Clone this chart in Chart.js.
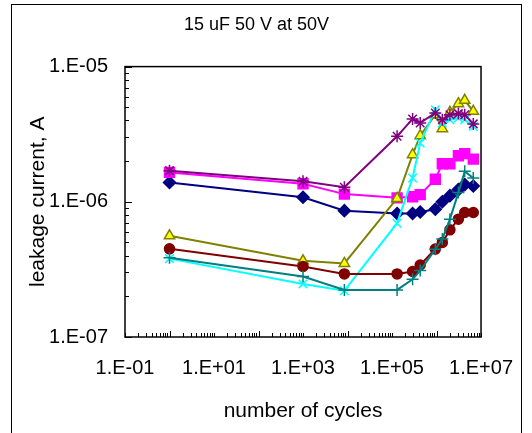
<!DOCTYPE html>
<html>
<head>
<meta charset="utf-8">
<script src="https://cdn.jsdelivr.net/npm/chart.js@4"></script>
<style>
  html, body { margin: 0; padding: 0; background: #fff; }
  #wrap { position: relative; width: 532px; height: 433px; }
  #frame { position: absolute; left: 11px; top: 4px; width: 509px; height: 440px; border: 1px solid #000; }
  canvas { position: absolute; left: 0; top: 0; }
</style>
</head>
<body>
<div id="wrap">
  <div id="frame"></div>
  <canvas id="chart" width="532" height="433"></canvas>
</div>
<script>
// number of cycles (x), shared by all series
const cycles = [1, 1000, 8500, 1.3e5, 2.9e5, 4.3e5, 9.4e5, 1.35e6, 2e6, 3.1e6, 4.3e6, 6.7e6];

// leakage current, A
const s1Navy    = [1.39e-6, 1.08e-6, 8.6e-7, 8.2e-7, 8.2e-7, 8.4e-7, 8.8e-7, 1.0e-6, 1.11e-6, 1.23e-6, 1.34e-6, 1.31e-6];
const s2Magenta = [1.65e-6, 1.36e-6, 1.14e-6, 1.07e-6, 1.09e-6, 1.13e-6, 1.47e-6, 1.91e-6, 1.91e-6, 2.19e-6, 2.27e-6, 2.07e-6];
const s3Yellow  = [5.6e-7, 3.66e-7, 3.5e-7, 1.06e-6, 2.23e-6, 3.08e-6, 4.41e-6, 3.47e-6, 4.59e-6, 5.32e-6, 5.63e-6, 4.67e-6];
const s4Cyan    = [3.8e-7, 2.47e-7, 2.2e-7, 6.95e-7, 1.5e-6, 2.72e-6, 4.8e-6, 3.83e-6, 4.05e-6, 4.17e-6, 4.05e-6, 3.61e-6];
const s5Purple  = [1.70e-6, 1.42e-6, 1.28e-6, 3.05e-6, 4.1e-6, 3.83e-6, 4.54e-6, 4.05e-6, 4.41e-6, 4.49e-6, 4.41e-6, 3.77e-6];
const s6DarkRed = [4.49e-7, 3.32e-7, 2.93e-7, 2.93e-7, 3.05e-7, 3.41e-7, 4.47e-7, 5.0e-7, 6.2e-7, 7.44e-7, 8.33e-7, 8.33e-7];
const s7Teal    = [3.85e-7, 2.8e-7, 2.23e-7, 2.23e-7, 2.67e-7, 3.1e-7, 4.46e-7, 5.3e-7, 7.44e-7, 1.17e-6, 1.68e-6, 1.5e-6];

// labelled ticks
const xTickValues = [0.1, 10, 1e3, 1e5, 1e7];
const yTickValues = [1e-7, 1e-6, 1e-5];

const FONT = 'Liberation Sans, Arial, sans-serif';

function sciLabel(v) {
  const e = Math.round(Math.log10(v));
  return '1.E' + (e < 0 ? '-' : '+') + String(Math.abs(e)).padStart(2, '0');
}

function series(values, color, fill, style, radius, order) {
  return {
    data: cycles.map((x, i) => ({ x: x, y: values[i] })),
    borderColor: color,
    backgroundColor: fill,
    pointBackgroundColor: fill,
    pointBorderColor: color,
    pointStyle: style,
    pointRadius: radius,
    pointBorderWidth: 1.5,
    borderWidth: 2,
    tension: 0,
    order: order,
  };
}

// inward minor ticks + plot frame, the way Excel draws them
const frameTicks = {
  id: 'frameTicks',
  afterDatasetsDraw(chart) {
    const { ctx, chartArea: a, scales } = chart;
    ctx.save();
    ctx.strokeStyle = '#000';
    ctx.lineWidth = 1;
    ctx.beginPath();
    for (let d = -7; d <= -5; d++) {
      for (let m = 1; m <= 9; m++) {
        const v = m * Math.pow(10, d);
        if (v < 1e-7 || v > 1e-5) continue;
        const y = Math.round(scales.y.getPixelForValue(v)) + 0.5;
        ctx.moveTo(a.left, y);
        ctx.lineTo(a.left + (m === 1 ? 7 : 4), y);
      }
    }
    for (let d = -1; d <= 7; d++) {
      for (let m = 1; m <= 9; m++) {
        const v = m * Math.pow(10, d);
        if (v < 0.1 || v > 1e7) continue;
        const x = Math.round(scales.x.getPixelForValue(v)) + 0.5;
        ctx.moveTo(x, a.bottom);
        ctx.lineTo(x, a.bottom - (m === 1 ? (d % 2 === 0 ? 6 : 4) : 4));
      }
    }
    ctx.stroke();
    ctx.lineWidth = 1.5;
    ctx.strokeRect(a.left, a.top, a.right - a.left, a.bottom - a.top);
    ctx.restore();
  }
};

new Chart(document.getElementById('chart'), {
  type: 'line',
  data: {
    datasets: [
      series(s1Navy, '#000080', '#000080', 'rectRot', 6, 7),
      series(s2Magenta, '#FF00FF', '#FF00FF', 'rect', 7, 6),
      series(s3Yellow, '#808000', '#FFFF00', 'triangle', 6, 5),
      series(s4Cyan, '#00FFFF', '#00FFFF', 'crossRot', 6, 4),
      series(s5Purple, '#800080', '#800080', 'star', 6, 3),
      series(s6DarkRed, '#800000', '#800000', 'circle', 5, 2),
      series(s7Teal, '#008080', '#008080', 'cross', 6, 1),
    ],
  },
  options: {
    responsive: false,
    animation: false,
    layout: { padding: { left: 16, right: 35, top: 0, bottom: 0 } },
    plugins: {
      legend: { display: false },
      tooltip: { enabled: false },
      title: {
        display: true,
        text: '15 uF 50 V at 50V',
        color: '#000',
        font: { family: FONT, size: 18, weight: 'normal', lineHeight: 1.2 },
        padding: { top: 14, bottom: 31 },
      },
    },
    scales: {
      x: {
        type: 'logarithmic',
        min: 0.1,
        max: 1e7,
        afterBuildTicks: (s) => { s.ticks = xTickValues.map(v => ({ value: v })); },
        afterFit: (s) => { s.height = 96; },
        grid: { display: false, drawTicks: false },
        border: { display: false },
        ticks: {
          color: '#000',
          padding: 19,
          maxRotation: 0,
          autoSkip: false,
          font: { family: FONT, size: 20 },
          callback: (v) => sciLabel(v),
        },
        title: {
          display: true,
          text: 'number of cycles',
          color: '#000',
          font: { family: FONT, size: 21, lineHeight: 1.2 },
          padding: { top: 0, bottom: 9 },
        },
      },
      y: {
        type: 'logarithmic',
        min: 1e-7,
        max: 1e-5,
        afterBuildTicks: (s) => { s.ticks = yTickValues.map(v => ({ value: v })); },
        afterFit: (s) => { s.width = 109; },
        grid: { display: false, drawTicks: false },
        border: { display: false },
        ticks: {
          color: '#000',
          padding: 17,
          autoSkip: false,
          font: { family: FONT, size: 20 },
          callback: (v) => sciLabel(v),
        },
        title: {
          display: true,
          text: 'leakage current, A',
          color: '#000',
          font: { family: FONT, size: 21, lineHeight: 1.2 },
          padding: { top: 10, bottom: 0 },
        },
      },
    },
  },
  plugins: [frameTicks],
});
</script>
</body>
</html>
